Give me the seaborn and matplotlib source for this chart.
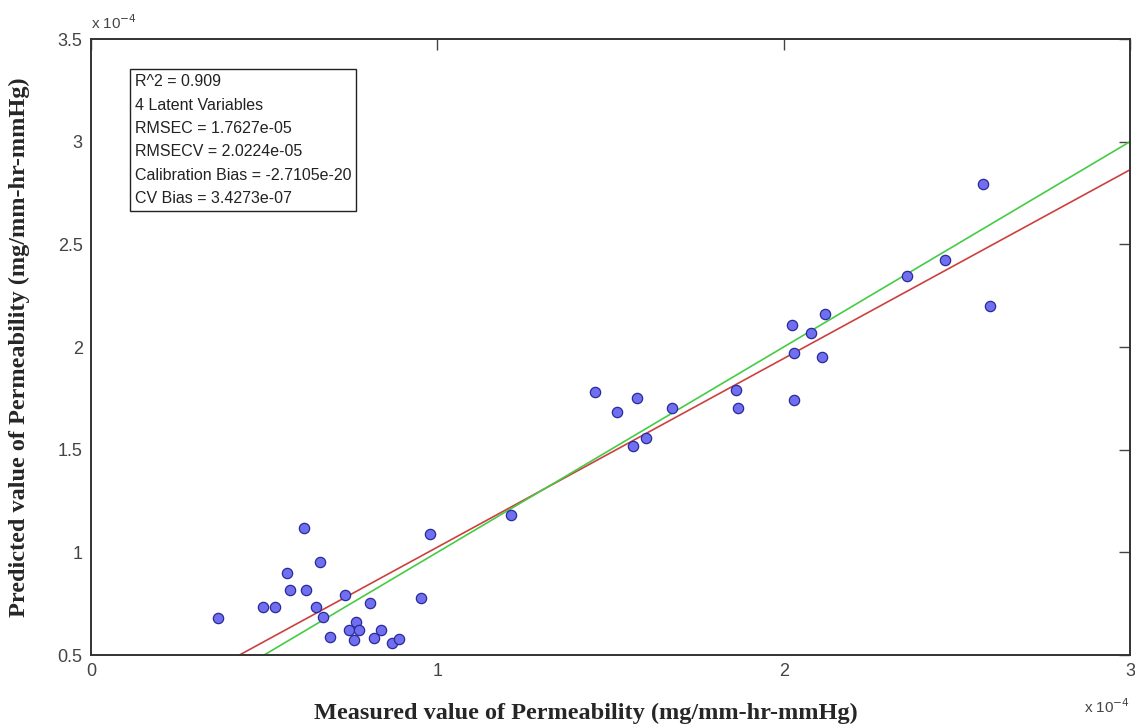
import numpy as np
import pandas as pd
import matplotlib
matplotlib.use("Agg")
import matplotlib.pyplot as plt
import seaborn as sns
from matplotlib import font_manager

# ---- data (values in units of 1e-4) ----
measured = [0.366, 0.496, 0.530, 0.565, 0.576, 0.614, 0.622, 0.651, 0.660, 0.671,
            0.689, 0.732, 0.744, 0.758, 0.764, 0.775, 0.807, 0.818, 0.836, 0.870,
            0.888, 0.954, 0.980, 1.213, 1.455, 1.519, 1.565, 1.576, 1.602, 1.677,
            1.862, 1.867, 2.023, 2.029, 2.029, 2.078, 2.110, 2.118, 2.357, 2.467,
            2.576, 2.597]
predicted = [0.680, 0.734, 0.734, 0.899, 0.817, 1.119, 0.817, 0.734, 0.953, 0.685,
             0.588, 0.792, 0.622, 0.573, 0.661, 0.622, 0.753, 0.583, 0.622, 0.558,
             0.578, 0.778, 1.089, 1.182, 1.781, 1.684, 1.518, 1.752, 1.557, 1.703,
             1.791, 1.703, 2.107, 1.971, 1.742, 2.068, 1.952, 2.161, 2.346, 2.424,
             2.794, 2.200]
fit_slope = 0.919
fit_intercept = 0.106
x_ticks = [0, 1, 2, 3]
y_ticks = [0.5, 1, 1.5, 2, 2.5, 3, 3.5]
y_tick_labels = ["0.5", "1", "1.5", "2", "2.5", "3", "3.5"]
stats_lines = ["R^2 = 0.909", "4 Latent Variables", "RMSEC = 1.7627e-05",
               "RMSECV = 2.0224e-05", "Calibration Bias = -2.7105e-20",
               "CV Bias = 3.4273e-07"]

sns.set_style("white")
avail = {f.name for f in font_manager.fontManager.ttflist}
narrow = "Liberation Sans Narrow" if "Liberation Sans Narrow" in avail else "Liberation Sans"
plt.rcParams['font.family'] = [narrow, 'DejaVu Sans']

fig = plt.figure(figsize=(11.35, 7.27), dpi=100)
ax = fig.add_axes([91/1135, 1 - 655/727, (1130-91)/1135, (655-39)/727])

df = pd.DataFrame({"measured": measured, "predicted": predicted})

line_x = np.linspace(0, 3, 50)
lines = pd.DataFrame({"x": line_x,
                      "fit": fit_slope * line_x + fit_intercept,
                      "ideal": line_x})
sns.lineplot(data=lines, x="x", y="fit", ax=ax, color="#cc4040", lw=1.2, zorder=2)
sns.lineplot(data=lines, x="x", y="ideal", ax=ax, color="#44cc44", lw=1.2, zorder=2)
sns.scatterplot(data=df, x="measured", y="predicted", ax=ax, s=55,
                color="#6f6ff0", edgecolor="#2a2a9a", linewidth=0.9, zorder=3)

ax.set_xlim(0, 3)
ax.set_ylim(0.5, 3.5)
ax.set_xticks(x_ticks)
ax.set_xticklabels([str(t) for t in x_ticks])
ax.set_yticks(y_ticks)
ax.set_yticklabels(y_tick_labels)
ax.tick_params(axis="both", direction="in", length=8, width=1, labelsize=13,
               colors="#444444", top=True, right=True, pad=6)
for s in ax.spines.values():
    s.set_color("#333333")
    s.set_linewidth(1.4)

ax.set_xlabel("Measured value of Permeability (mg/mm-hr-mmHg)",
              family="Liberation Serif", fontweight="bold", fontsize=17.5)
ax.set_ylabel("Predicted value of Permeability (mg/mm-hr-mmHg)",
              family="Liberation Serif", fontweight="bold", fontsize=17.5, labelpad=20)
ax.xaxis.set_label_coords(0.476, -0.078)

ax.text(0.0, 1.012, r"x 10$^{-4}$", transform=ax.transAxes, fontsize=11,
        color="#444444", ha="left", va="bottom")
ax.text(1.0, -0.068, r"x 10$^{-4}$", transform=ax.transAxes, fontsize=11,
        color="#444444", ha="right", va="top")

ax.text(0.042, 0.943, "\n".join(stats_lines), transform=ax.transAxes, fontsize=11.5,
        color="#222222", ha="left", va="top", linespacing=1.7,
        bbox=dict(boxstyle="square,pad=0.3", facecolor="white", edgecolor="#222222", lw=1))

fig.savefig("out.png", dpi=100)
